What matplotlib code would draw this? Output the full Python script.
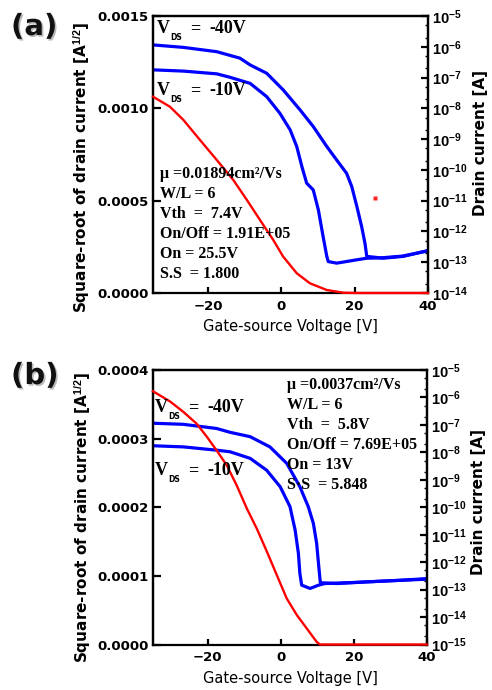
import math
import matplotlib
matplotlib.use("Agg")
import matplotlib.pyplot as plt
import matplotlib.ticker as mticker
import matplotlib.patheffects as pe

plt.rcParams['font.family'] = ['DejaVu Sans']
plt.rcParams['mathtext.fontset'] = 'custom'
plt.rcParams['mathtext.bf'] = 'Liberation Sans:bold'
plt.rcParams['mathtext.rm'] = 'Liberation Sans'
plt.rcParams['mathtext.it'] = 'Liberation Sans:italic'

# ---------------- data: panel (a) ----------------
a_x_red = [-35, -30.4, -26.7, -22.2, -17.6, -13.1, -9.4, -5.8, -2.2, 0.5, 4.2, 7.8, 12.4, 16.9, 20.5, 40]
a_sqrt_red = [1.063e-3, 1.009e-3, 0.937e-3, 0.829e-3, 0.720e-3, 0.612e-3, 0.504e-3, 0.395e-3,
              0.287e-3, 0.197e-3, 0.107e-3, 0.0525e-3, 0.0162e-3, 0.0016e-3, 0.0, 0.0]
a_dot_x = [25.5]
a_dot_y = [0.000516]

a_x_vds40 = [-35, -26.7, -17.6, -11.3, -8.5, -4.0, 0.5, 5.1, 8.7, 12.4, 15.1, 17.8, 19.2, 20.6,
             21.9, 22.8, 23.3, 27.8, 33.3, 40]
a_ids_vds40 = [1.15e-6, 9.55e-7, 6.92e-7, 4.27e-7, 2.57e-7, 1.38e-7, 3.98e-8, 8.91e-9, 2.57e-9,
               5.75e-10, 2.09e-10, 7.76e-11, 2.88e-11, 6.46e-12, 1.45e-12, 4.17e-13, 1.55e-13,
               1.35e-13, 1.55e-13, 2.40e-13]

a_x_vds10 = [-35, -26.7, -17.6, -14.0, -8.5, -4.0, -0.4, 2.4, 4.2, 5.6, 6.9, 8.7, 10.1, 11.4,
             12.4, 12.8, 15.1, 20.6, 23.3, 27, 33, 40]
a_ids_vds10 = [1.78e-7, 1.62e-7, 1.32e-7, 1.02e-7, 6.46e-8, 2.40e-8, 6.92e-9, 2.00e-9, 5.75e-10,
               1.29e-10, 3.72e-11, 2.24e-11, 5.01e-12, 6.76e-13, 1.55e-13, 1.05e-13, 9.33e-14,
               1.20e-13, 1.35e-13, 1.38e-13, 1.58e-13, 2.34e-13]

a_params = ["\u03bc =0.01894cm\u00b2/Vs", "W/L = 6", "Vth  =  7.4V", "On/Off = 1.91E+05",
            "On = 25.5V", "S.S  = 1.800"]

# ---------------- data: panel (b) ----------------
b_x_red = [-35, -30.3, -26.7, -23.1, -20.3, -17.6, -14.8, -12.1, -9.3, -6.6, -3.8, -1.1, 1.6,
           4.4, 7.1, 9.8, 10.7, 40]
b_sqrt_red = [3.69e-4, 3.54e-4, 3.39e-4, 3.22e-4, 3.03e-4, 2.83e-4, 2.61e-4, 2.32e-4, 1.98e-4,
              1.69e-4, 1.35e-4, 1.01e-4, 0.671e-4, 0.427e-4, 0.233e-4, 0.038e-4, 0.0, 0.0]

b_x_vds40 = [-35, -26.7, -17.6, -13.9, -8.4, -3.0, 1.6, 5.2, 7.5, 8.9, 9.8, 10.3, 10.8, 15.3,
             23.5, 32.6, 40]
b_ids_vds40 = [1.15e-7, 1.05e-7, 7.41e-8, 5.37e-8, 3.72e-8, 1.58e-8, 3.98e-9, 5.62e-10, 1.05e-10,
               2.57e-11, 4.79e-12, 8.91e-13, 1.78e-13, 1.66e-13, 1.91e-13, 2.19e-13, 2.51e-13]

b_x_vds10 = [-35, -26.7, -17.6, -13.9, -8.4, -3.9, -0.2, 2.5, 3.9, 4.8, 5.2, 5.7, 8.0, 10.3, 12,
             20, 30, 40]
b_ids_vds10 = [1.74e-8, 1.58e-8, 1.20e-8, 1.05e-8, 6.03e-9, 2.24e-9, 5.62e-10, 1.05e-10,
               1.48e-11, 2.09e-12, 3.89e-13, 1.45e-13, 1.10e-13, 1.45e-13, 1.66e-13, 1.82e-13,
               2.09e-13, 2.40e-13]

b_params = ["\u03bc =0.0037cm\u00b2/Vs", "W/L = 6", "Vth  =  5.8V", "On/Off = 7.69E+05",
            "On = 13V", "S\u00b7S  = 5.848"]

x_ticks = [-20, 0, 20, 40]
a_left_ticks = [0.0, 0.0005, 0.0010, 0.0015]
b_left_ticks = [0.0, 0.0001, 0.0002, 0.0003, 0.0004]

SERIF = ['Liberation Serif', 'DejaVu Serif']
W, H = 492, 690
fig = plt.figure(figsize=(W / 100, H / 100), dpi=100)


def make_panel(rect, xr, yr, x40, i40, x10, i10, left_ticks, ylim, logmin, params, par_pos,
               vds_pos, label, label_y, ylab_y, rlab, xlab_y, dot=None):
    ax = fig.add_axes(rect)
    ax2 = ax.twinx()
    ax.set_zorder(2)
    ax2.set_zorder(1)
    ax.patch.set_visible(False)

    ax2.plot(x40, i40, color='#0000ff', lw=2.3, solid_joinstyle='round')
    ax2.plot(x10, i10, color='#0000ff', lw=2.3, solid_joinstyle='round')
    ax.plot(xr, yr, color='#ff0000', lw=1.7, clip_on=False, zorder=5)
    if dot is not None:
        ax.plot(dot[0], dot[1], 's', color='#ff2020', ms=2.2, mec='none')

    ax.set_xlim(-35, 40)
    ax.set_ylim(*ylim)
    ax2.set_yscale('log')
    ax2.set_ylim(10.0 ** logmin, 1e-5)

    ax.set_xticks(x_ticks)
    ax.set_yticks(left_ticks)
    ax.yaxis.set_major_formatter(mticker.FormatStrFormatter('%.4f'))
    ax2.yaxis.set_major_locator(mticker.LogLocator(base=10, numticks=20))
    ax2.yaxis.set_minor_locator(mticker.LogLocator(base=10, subs=(0.2, 0.5), numticks=20))
    ax2.yaxis.set_minor_formatter(mticker.NullFormatter())
    ax2.yaxis.set_major_formatter(mticker.FuncFormatter(
        lambda v, p: r'$\mathbf{10^{%d}}$' % round(math.log10(v))))

    for a in (ax, ax2):
        for s in a.spines.values():
            s.set_linewidth(1.6)
            s.set_color('black')
    ax.spines['bottom'].set_zorder(1)
    ax2.spines['bottom'].set_visible(False)

    ax.tick_params(axis='x', direction='in', length=4, width=1.6, pad=5, labelsize=9.5,
                   top=False)
    ax.tick_params(axis='y', direction='in', length=6, width=1.6, pad=3, labelsize=9.5)
    ax2.tick_params(axis='y', which='major', direction='in', length=5, width=1.6, pad=3,
                    labelsize=10.5)
    ax2.tick_params(axis='y', which='minor', direction='in', length=2, width=1.0)
    for t in ax.get_xticklabels() + ax.get_yticklabels():
        t.set_fontweight('bold')

    ax.set_xlabel('Gate-source Voltage [V]', fontsize=10.5)
    ax.xaxis.set_label_coords(0.5, xlab_y)
    ax.set_ylabel(r'Square-root of drain current [A$^{\mathbf{1/2}}$]', fontsize=11,
                  fontweight='bold')
    ax.yaxis.set_label_coords(-0.22, ylab_y)
    ax2.set_ylabel('Drain current [A]', fontsize=11, fontweight='bold')
    ax2.yaxis.set_label_coords(rlab[0], rlab[1])

    # parameter block
    px, py, dy = par_pos
    for i, s in enumerate(params):
        ax.text(px, py - i * dy, s, transform=ax.transAxes, family=SERIF, fontweight='bold',
                fontsize=11.5, va='baseline', ha='left', zorder=10)

    # V_DS labels
    for (fx, fy, val) in vds_pos:
        kw = dict(xy=(fx, fy), xycoords='axes fraction', textcoords='offset points',
                  va='baseline', ha='left', zorder=10)
        ax.annotate('V', xytext=(0, 0), family=SERIF, fontweight='bold', fontsize=13, **kw)
        ax.annotate('DS', xytext=(9.2, -5), fontweight='bold', fontsize=5.5, **kw)
        ax.annotate('=', xytext=(23.5, 0), family=SERIF, fontweight='bold', fontsize=13, **kw)
        ax.annotate(val, xytext=(37.5, 0), family=SERIF, fontweight='bold', fontsize=13, **kw)

    fig.text(11 / W, 1 - label_y / H, label, fontsize=21, fontweight='bold', color='#111111',
             va='top', ha='left',
             path_effects=[pe.SimplePatchShadow(offset=(1.2, -1.2), shadow_rgbFace='#777777',
                                                alpha=0.5), pe.Normal()])
    return ax, ax2


make_panel([153 / W, 1 - 293 / H, 275 / W, 277 / H], a_x_red, a_sqrt_red,
           a_x_vds40, a_ids_vds40, a_x_vds10, a_ids_vds10, a_left_ticks, (0, 0.0015), -14,
           a_params, (0.026, 0.416, 0.0727),
           [(0.015, 0.939, '-40V'), (0.015, 0.715, '-10V')], '(a)', 13, 0.455, (1.165, 0.54),
           -0.094, dot=(a_dot_x, a_dot_y))

make_panel([153 / W, 1 - 644.5 / H, 274 / W, 274.5 / H], b_x_red, b_sqrt_red,
           b_x_vds40, b_ids_vds40, b_x_vds10, b_ids_vds10, b_left_ticks, (0, 0.0004), -15,
           b_params, (0.488, 0.93, 0.0725),
           [(0.008, 0.847, '-40V'), (0.008, 0.617, '-10V')], '(b)', 362, 0.464, (1.16, 0.52),
           -0.097)

fig.savefig('out.png', dpi=100)
